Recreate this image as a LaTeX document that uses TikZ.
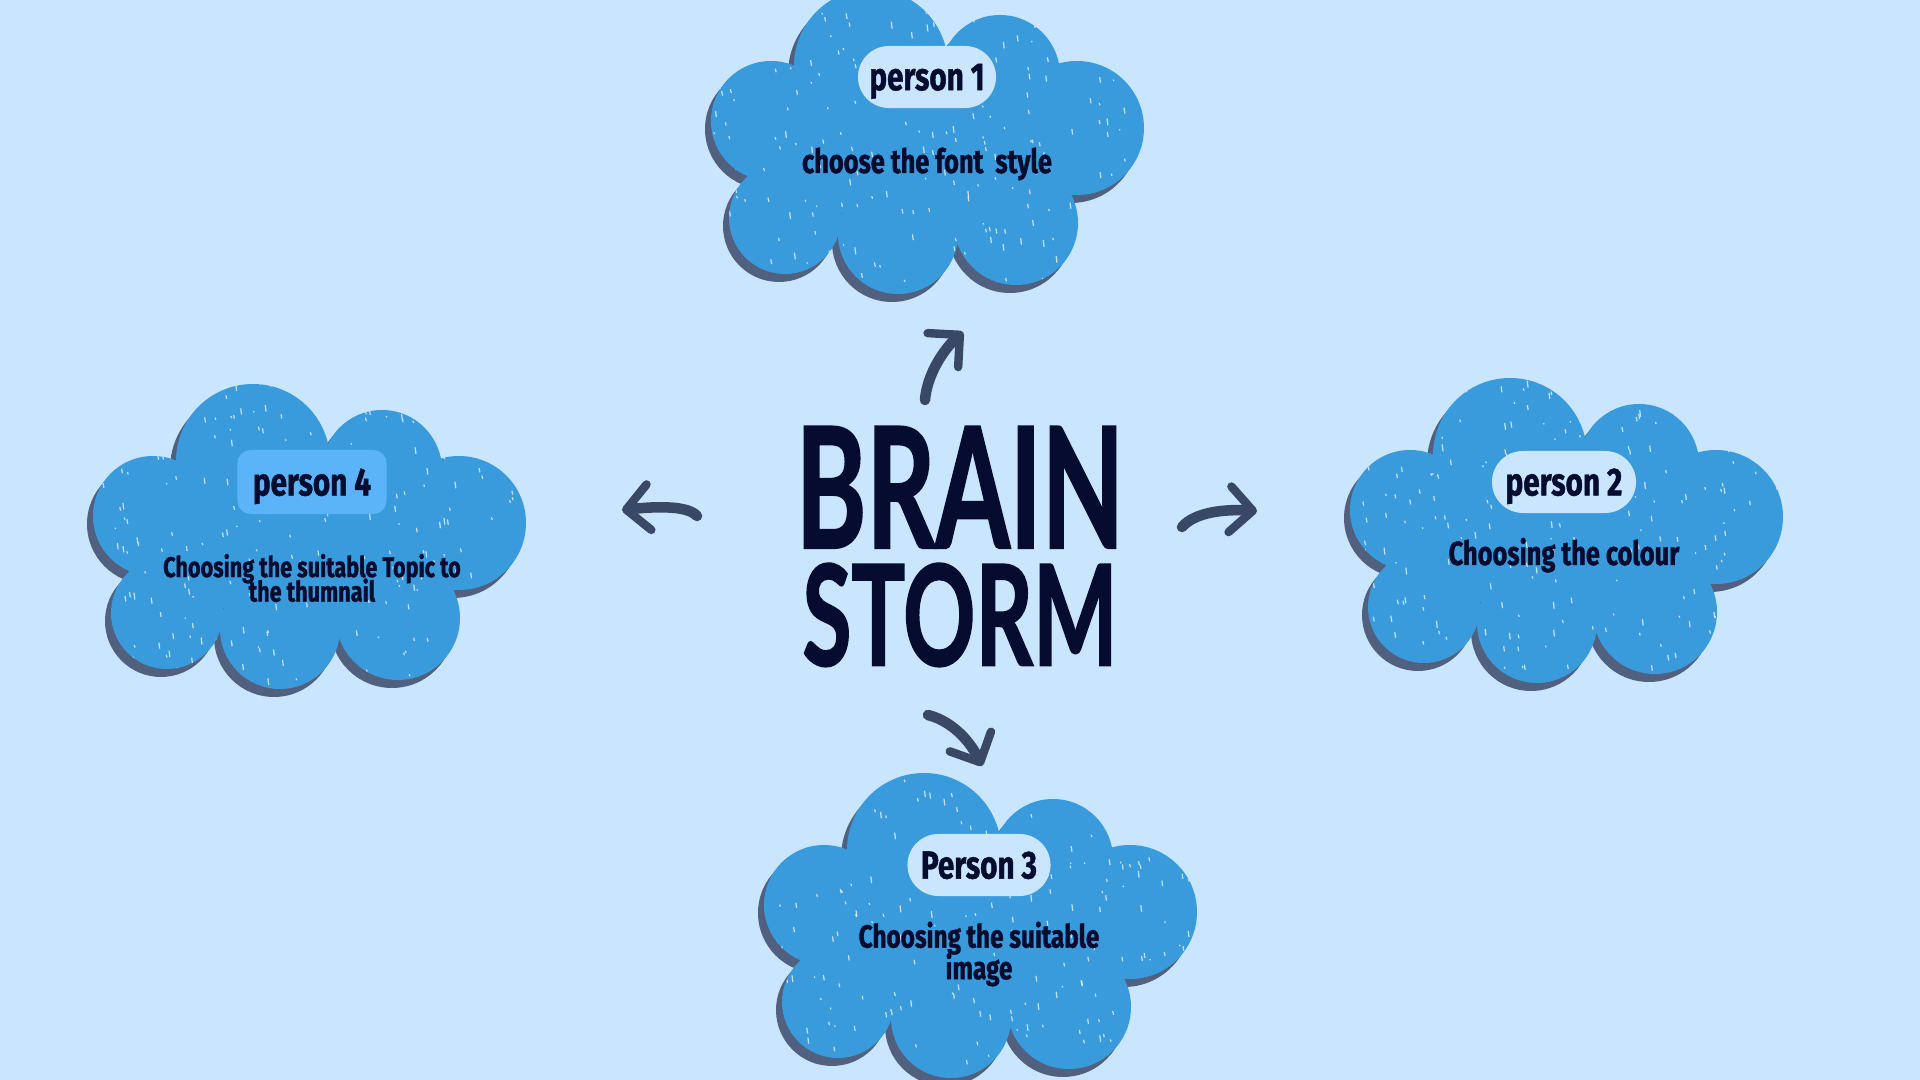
\documentclass[tikz,border=0pt]{standalone}
\usepackage{fontspec}
\usetikzlibrary{arrows.meta}
\newfontfamily\antonf[FakeStretch=0.76, FakeBold=1.2]{Fira Sans}
\newfontfamily\brainf[FakeBold=1.5]{Lato}
\definecolor{bgc}{HTML}{C9E6FE}
\definecolor{cloudc}{HTML}{3A9BDC}
\definecolor{shadowc}{HTML}{52607F}
\definecolor{inkc}{HTML}{060C2F}
\definecolor{arrowc}{HTML}{3A4868}
\definecolor{pillfour}{HTML}{5AB4F7}
\def\bumps{-153/28/60,-53/-27/77,76/-18/60,153/35/67,-139/125/56,-26/141/60,92/130/62}
\tikzset{
  cloud/.pic={
    \pgfmathsetseed{#1}
    \fill[shadowc] foreach \a/\b/\r in \bumps {(\a-6,\b+8) circle[radius=\r]} (139,8) rectangle (-151,128);
    \fill[cloudc] foreach \a/\b/\r in \bumps {(\a,\b) circle[radius=\r]} (145,0) rectangle (-145,120);
    \begin{scope}
      \clip foreach \a/\b/\r in \bumps {(\a,\b) circle[radius=\r]} (145,0) rectangle (-145,120);
      \foreach \k in {1,...,240}{
        \pgfmathsetmacro{\sx}{-215+435*rnd}
        \pgfmathsetmacro{\sy}{-105+310*rnd}
        \pgfmathsetmacro{\sl}{1+6*rnd}
        \draw[white, line width=0.35pt, opacity=0.7] (\sx,\sy) -- ++(0.8,\sl);
      }
    \end{scope}
  },
  pill/.style={fill=bgc, rounded corners=0.31cm, minimum height=0.62cm, inner sep=0pt,
    text=inkc, text depth=0pt, font=\antonf\bfseries\fontsize{11.1pt}{12pt}\selectfont},
  desc/.style={text=inkc, inner sep=0pt, align=center},
  brush/.style={draw=arrowc, line width=3pt, line cap=round,
    -{Straight Barb[length=6.5pt, width=13pt, line width=2.4pt, round]}},
  title/.style={inner sep=0pt, text=inkc, align=center}
}
\begin{document}
\begin{tikzpicture}[x=0.01cm, y=-0.01cm]
\useasboundingbox (0,0) rectangle (1920,1080);
\fill[bgc] (0,0) rectangle (1920,1080);
\clip (0,0) rectangle (1920,1080);

% clouds
\pic (c1) at (924,93) {cloud=11};
\pic (c2) at (1563,482) {cloud=22};
\pic (c3) at (977,877) {cloud=33};
\pic (c4) at (306,488) {cloud=44};

% labels
\node[pill, minimum width=1.38cm] (p1) at (927,77) {person 1};
\node[pill, minimum width=1.44cm] (p2) at (1564,482) {person 2};
\node[pill, minimum width=1.43cm] (p3) at (979,865) {Person 3};
\node[pill, fill=pillfour, rounded corners=0.13cm, minimum width=1.49cm, minimum height=0.64cm] (p4) at (312,482) {person 4};

% descriptions
\node[desc, anchor=base, font=\antonf\bfseries\fontsize{9.5pt}{10pt}\selectfont] (d1) at (927,173) {choose the font\ \ style};
\node[desc, anchor=base, font=\antonf\bfseries\fontsize{9.5pt}{10pt}\selectfont] (d2) at (1564,565) {Choosing the colour};
\node[desc, font=\antonf\bfseries\fontsize{9.1pt}{8.5pt}\selectfont] (d3) at (979,954) {Choosing the suitable\\[-1.4pt]image};
\node[desc, font=\antonf\bfseries\fontsize{8.1pt}{7.3pt}\selectfont] (d4) at (312,578) {Choosing the suitable Topic to\\[-2.4pt]the thumnail};

% title
\node[title, anchor=north] (title) at (960,426) {\resizebox{3.28cm}{1.21cm}{\brainf\bfseries BRAIN}\\[0.12cm]\resizebox{3.15cm}{1.02cm}{\brainf\bfseries STORM}};

% arrows
\coordinate (upT) at (925,400); \coordinate (upH) at (963,332);
\coordinate (lfT) at (697,516); \coordinate (lfH) at (622,510);
\coordinate (rtT) at (1182,527); \coordinate (rtH) at (1257,511);
\coordinate (dnT) at (928,715); \coordinate (dnH) at (982,766);
\draw[brush] (upT) .. controls (927,375) and (943,350) .. (upH);
\draw[brush] (lfT) .. controls (688,506) and (660,506) .. (lfH);
\draw[brush] (rtT) .. controls (1195,512) and (1225,509) .. (rtH);
\draw[brush] (dnT) .. controls (955,722) and (972,745) .. (dnH);
\end{tikzpicture}
\end{document}
